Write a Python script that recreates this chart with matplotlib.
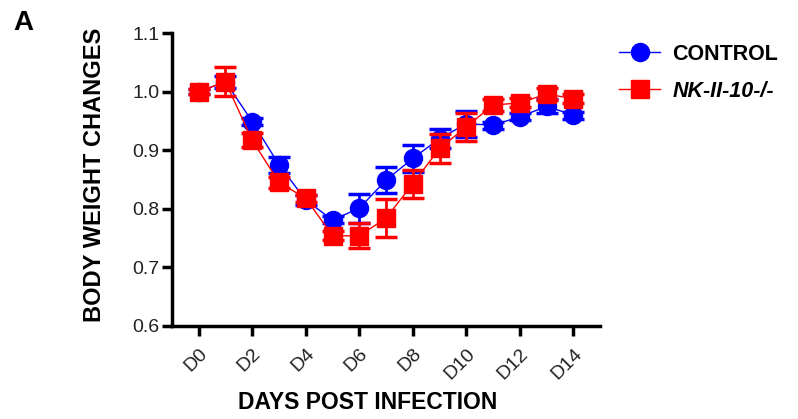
import matplotlib
matplotlib.use("Agg")
import matplotlib.pyplot as plt
from matplotlib.lines import Line2D

plt.rcParams['font.family'] = ['Liberation Sans', 'DejaVu Sans']

# data
days = list(range(15))
day_labels = ['D0', 'D2', 'D4', 'D6', 'D8', 'D10', 'D12', 'D14']
control = [1.000, 1.017, 0.949, 0.875, 0.815, 0.781, 0.801, 0.849, 0.886, 0.920,
           0.945, 0.943, 0.957, 0.975, 0.960]
control_se = [0.004, 0.010, 0.006, 0.013, 0.008, 0.006, 0.025, 0.022, 0.023, 0.017,
              0.022, 0.006, 0.006, 0.012, 0.006]
nk = [1.000, 1.017, 0.917, 0.845, 0.818, 0.754, 0.754, 0.784, 0.843, 0.903,
      0.940, 0.977, 0.981, 0.996, 0.988]
nk_se = [0.004, 0.025, 0.012, 0.010, 0.006, 0.008, 0.021, 0.032, 0.024, 0.024,
         0.024, 0.010, 0.008, 0.010, 0.008]

fig = plt.figure(figsize=(7.98, 4.19), dpi=100)
ax = fig.add_axes([0.2155, 0.222, 0.5365, 0.699])

ax.errorbar(days, control, yerr=control_se, color='blue', marker='o', markersize=13,
            linewidth=1, elinewidth=2, capsize=8, capthick=2.5, zorder=3)
ax.errorbar(days, nk, yerr=nk_se, color='red', marker='s', markersize=13,
            linewidth=1, elinewidth=2, capsize=8, capthick=2.5, zorder=4)

ax.set_xlim(-1, 15)
ax.set_ylim(0.6, 1.1)
ax.set_yticks([0.6, 0.7, 0.8, 0.9, 1.0, 1.1])
ax.set_yticklabels(['0.6', '0.7', '0.8', '0.9', '1.0', '1.1'])
ax.set_xticks(range(0, 15, 2))
ax.set_xticklabels(day_labels, rotation=45, ha='right', rotation_mode='anchor')

for s in ['top', 'right']:
    ax.spines[s].set_visible(False)
for s in ['left', 'bottom']:
    ax.spines[s].set_linewidth(2.5)
ax.tick_params(width=2.5, length=7, labelsize=14, labelcolor='#222222')
ax.tick_params(axis='x', pad=7)
ax.tick_params(axis='y', pad=2)

ax.set_ylabel('BODY WEIGHT CHANGES', fontsize=17, fontweight='bold')
ax.yaxis.set_label_coords(-0.155, 0.515)
ax.set_xlabel('DAYS POST INFECTION', fontsize=16.5, fontweight='bold')
ax.xaxis.set_label_coords(0.458, -0.222)

handles = [Line2D([], [], color='blue', marker='o', markersize=13, linewidth=1),
           Line2D([], [], color='red', marker='s', markersize=13, linewidth=1)]
leg = ax.legend(handles, ['CONTROL', 'NK-II-10-/-'], loc='upper left',
                bbox_to_anchor=(1.0, 1.03), frameon=False, fontsize=15.5,
                handlelength=1.9, handletextpad=0.55, labelspacing=0.75)
for t in leg.get_texts():
    t.set_fontweight('bold')
leg.get_texts()[1].set_fontstyle('italic')

fig.text(0.017, 0.928, 'A', fontsize=20, fontweight='bold')

fig.savefig('out.png', dpi=100)
